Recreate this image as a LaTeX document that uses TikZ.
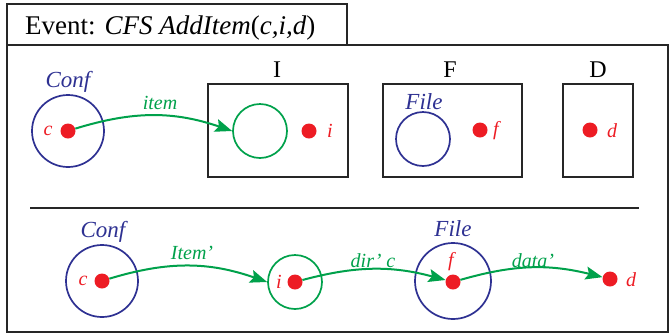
\documentclass[tikz,border=0pt]{standalone}
\usepackage{fontspec}
\setmainfont{Liberation Serif}
\usetikzlibrary{arrows.meta}
\definecolor{navy}{HTML}{2E3192}
\definecolor{grn}{HTML}{00A14B}
\definecolor{rd}{HTML}{ED1C24}
\begin{document}
\begin{tikzpicture}[x=1pt,y=-1pt,
  frame/.style={draw=black!85, line width=1.5pt},
  box/.style={draw=black!85, line width=1.5pt, inner sep=0pt, rectangle},
  bset/.style={circle, draw=navy, line width=1.7pt, inner sep=0pt},
  gset/.style={circle, draw=grn, line width=1.7pt, inner sep=0pt},
  dot/.style={circle, fill=rd, minimum size=15pt, inner sep=0pt},
  setname/.style={text=navy, font=\fontsize{23}{26}\selectfont\itshape, inner sep=0pt},
  elname/.style={text=rd, font=\fontsize{20}{23}\selectfont\itshape, inner sep=0pt},
  relname/.style={text=grn, font=\fontsize{20}{23}\selectfont\itshape, inner sep=0pt},
  boxname/.style={font=\fontsize{24}{27}\selectfont, inner sep=0pt},
  arr/.style={draw=grn, line width=2pt, -{Stealth[length=17pt,width=13pt,inset=3pt]}}
]
\useasboundingbox (0,0) rectangle (672,333);
% frames
\node[frame, rectangle, minimum width=340pt, minimum height=41pt, inner sep=0pt] (title) at (177,24.5) {};
\node[anchor=base west, inner sep=0pt, font=\fontsize{27}{30}\selectfont] (ttext) at (25,34) {Event: \textit{CFS AddItem}(\textit{c,i,d})};
\node[frame, rectangle, minimum width=661pt, minimum height=287pt, inner sep=0pt] (outer) at (337.5,188.5) {};
\coordinate (sepL) at (30,208);
\coordinate (sepR) at (639,208);
\draw[black!85, line width=2.5pt] (sepL) -- (sepR);

% ---- top part ----
\node[bset, minimum size=72pt] (conf1) at (68,131) {};
\node[setname] (conf1t) at (68,82) {Conf};
\node[dot] (c1) at (68,131) {};
\node[elname] (c1t) at (48,131) {c};

\node[box, minimum width=140pt, minimum height=93pt] (I) at (278,130.5) {};
\node[boxname] (It) at (277,70) {I};
\node[gset, minimum size=54pt] (g1) at (260,131) {};
\node[dot] (i1) at (309,131) {};
\node[elname] (i1t) at (330,131) {i};

\node[box, minimum width=139pt, minimum height=93pt] (F) at (452.5,130.5) {};
\node[boxname] (Ft) at (450,70) {F};
\node[bset, minimum size=54pt] (file1) at (423,139) {};
\node[setname] (file1t) at (424,102) {File};
\node[dot] (f1) at (480,130) {};
\node[elname] (f1t) at (496,131) {f};

\node[box, minimum width=70pt, minimum height=93pt] (D) at (598,130.5) {};
\node[boxname] (Dt) at (598,70) {D};
\node[dot] (d1) at (590,130) {};
\node[elname] (d1t) at (612,131) {d};

\draw[arr] (c1) to[bend left=18] (g1.west);
\node[relname] (item1) at (160,103) {item};

% ---- bottom part ----
\node[bset, minimum size=72pt] (conf2) at (102,281) {};
\node[setname] (conf2t) at (103,232) {Conf};
\node[dot] (c2) at (102,281) {};
\node[elname] (c2t) at (83,281) {c};

\node[gset, minimum size=54pt] (g2) at (295,282) {};
\node[dot] (i2) at (295,282) {};
\node[elname] (i2t) at (279,282) {i};

\node[bset, minimum size=76pt] (file2) at (453,281) {};
\node[setname] (file2t) at (453,229) {File};
\node[dot] (f2) at (453,282) {};
\node[elname] (f2t) at (451,262) {f};

\node[dot] (d2) at (610,279) {};
\node[elname] (d2t) at (631,280) {d};

\draw[arr] (c2) to[bend left=18] (g2.west);
\draw[arr] (i2) to[bend left=15] (f2);
\draw[arr] (f2) to[bend left=15] (d2);
\node[relname] (item2) at (192,253) {Item’};
\node[relname] (dir2) at (373,261) {dir’ c};
\node[relname] (data2) at (533,261) {data’};
\end{tikzpicture}
\end{document}
